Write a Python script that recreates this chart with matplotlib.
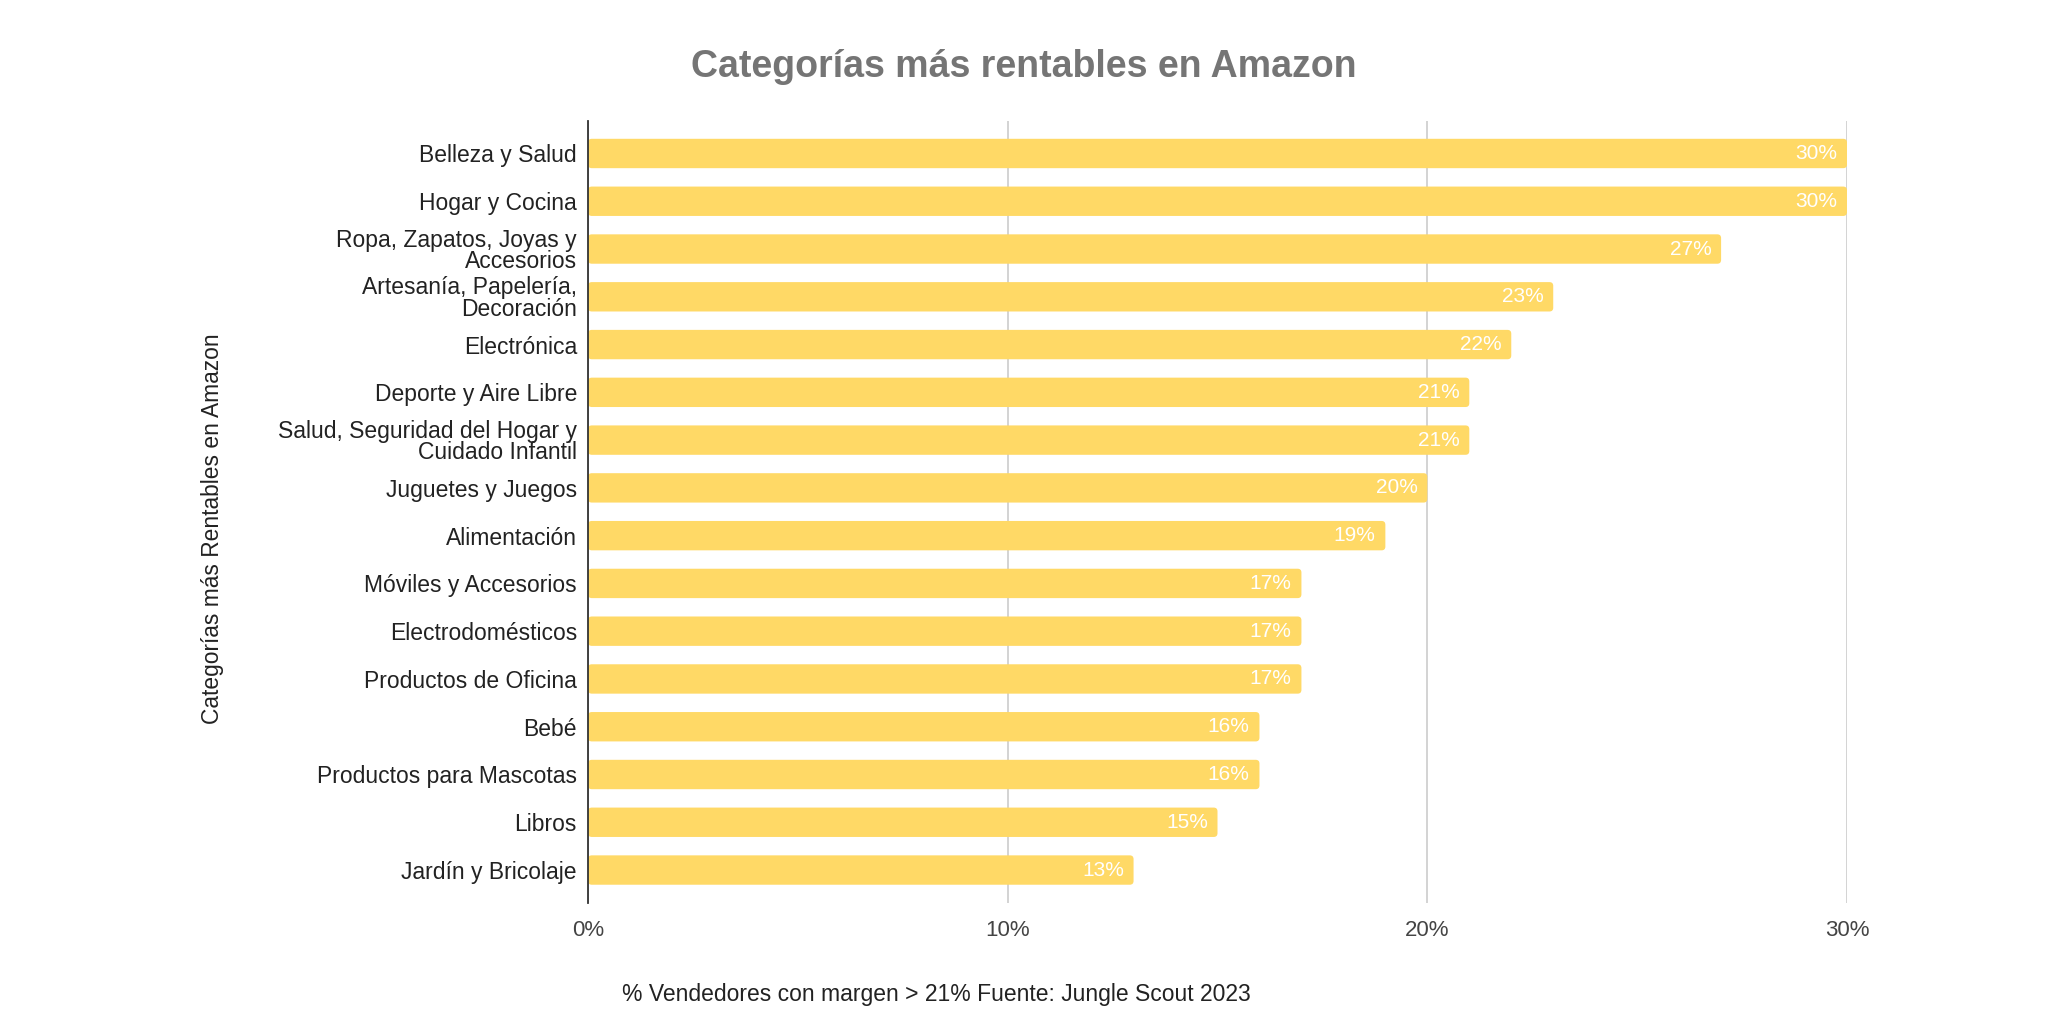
import matplotlib
matplotlib.use("Agg")
import matplotlib.pyplot as plt
from matplotlib.patches import FancyBboxPatch
from matplotlib.ticker import FuncFormatter

categories = [
    "Belleza y Salud",
    "Hogar y Cocina",
    "Ropa, Zapatos, Joyas y\nAccesorios",
    "Artesanía, Papelería,\nDecoración",
    "Electrónica",
    "Deporte y Aire Libre",
    "Salud, Seguridad del Hogar y\nCuidado Infantil",
    "Juguetes y Juegos",
    "Alimentación",
    "Móviles y Accesorios",
    "Electrodomésticos",
    "Productos de Oficina",
    "Bebé",
    "Productos para Mascotas",
    "Libros",
    "Jardín y Bricolaje",
]
values = [0.30, 0.30, 0.27, 0.23, 0.22, 0.21, 0.21, 0.20, 0.19, 0.17, 0.17, 0.17, 0.16, 0.16, 0.15, 0.13]
value_labels = ["30%", "30%", "27%", "23%", "22%", "21%", "21%", "20%", "19%", "17%", "17%", "17%", "16%", "16%", "15%", "13%"]
x_ticks = [0.0, 0.10, 0.20, 0.30]

title = "Categorías más rentables en Amazon"
y_title = "Categorías más Rentables en Amazon"
x_title = "% Vendedores con margen > 21% Fuente: Jungle Scout 2023"

BAR = "#FFD966"
FONT = ["Liberation Sans", "DejaVu Sans"]
plt.rcParams["font.family"] = FONT

fig = plt.figure(figsize=(20.48, 10.24), dpi=100)
ax = fig.add_axes([588 / 2048, 1 - 903 / 1024, (1847 - 588) / 2048, (903 - 121) / 1024])

ypos = list(range(len(categories)))
bars = ax.barh(ypos, values, height=0.615, color=BAR, zorder=2)

# replace rectangles with slightly rounded boxes
for b in bars:
    x0, y0 = b.get_x(), b.get_y()
    w, h = b.get_width(), b.get_height()
    b.set_visible(False)
    p = FancyBboxPatch((x0, y0), w, h,
                       boxstyle="round,pad=0,rounding_size=0.0009",
                       mutation_aspect=88, facecolor=BAR, edgecolor="none", zorder=2)
    ax.add_patch(p)

for y, v, lab in zip(ypos, values, value_labels):
    ax.annotate(lab, xy=(v, y), xytext=(-7, 0), textcoords="offset points",
                ha="right", va="center", color="white", fontsize=15, zorder=3)

ax.set_xlim(0, 0.30)
ax.set_ylim(len(categories) - 1 + 0.69, -0.68)
ax.set_xticks(x_ticks)
ax.xaxis.set_major_formatter(FuncFormatter(lambda v, p: f"{v*100:.0f}%"))
ax.set_yticks(ypos)
ax.set_yticklabels(categories, fontsize=16.5, color="#222222", linespacing=0.92)
ax.tick_params(axis="y", length=0, pad=8)
ax.tick_params(axis="x", length=0, pad=12, labelsize=16, labelcolor="#444444")

ax.grid(axis="x", color="#cccccc", linewidth=1.2, zorder=0)
ax.set_axisbelow(True)
for s in ["top", "right", "bottom"]:
    ax.spines[s].set_visible(False)
ax.spines["left"].set_color("#333333")
ax.spines["left"].set_linewidth(1.3)
ax.spines["left"].set_zorder(4)

fig.text(0.5, 1 - 67 / 1024, title, ha="center", va="center",
         fontsize=27, fontweight="bold", color="#757575")
fig.text(212 / 2048, 1 - 529 / 1024, y_title, ha="center", va="center",
         rotation=90, fontsize=16.4, color="#222222")
fig.text(936 / 2048, 1 - 995 / 1024, x_title, ha="center", va="center",
         fontsize=16.5, color="#222222")

fig.savefig("out.png", dpi=100, facecolor="white")
